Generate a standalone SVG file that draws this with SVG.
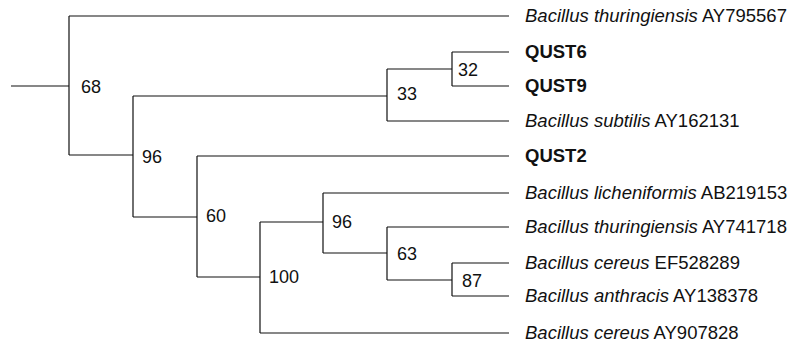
<svg xmlns="http://www.w3.org/2000/svg" width="792" height="349" viewBox="0 0 792 349">
<style>
.br{fill:none;stroke:#111;stroke-width:1.2}
.lf{font-family:"Liberation Sans",Arial,sans-serif;font-size:18.5px;fill:#111}
.it{font-style:italic}
.bd{font-weight:bold}
.bs{font-family:"Liberation Sans",Arial,sans-serif;font-size:18px;fill:#111}
</style>
<rect width="792" height="349" fill="#fff"/>
<g id="connectors">
<path class="br" d="M11,86H69"/>
<path class="br" d="M69,16V155M69,16H509M69,155H133"/>
<path class="br" d="M133,96V217M133,96H387M133,217H197"/>
<path class="br" d="M387,69V121M387,69H452M387,121H509"/>
<path class="br" d="M452,52V86M452,52H509M452,86H509"/>
<path class="br" d="M197,156V277M197,156H509M197,277H260"/>
<path class="br" d="M260,222V333M260,222H323M260,333H509"/>
<path class="br" d="M323,193V253M323,193H509M323,253H387"/>
<path class="br" d="M387,227V280M387,227H509M387,280H452"/>
<path class="br" d="M452,263V296M452,263H509M452,296H509"/>
</g>
<g id="support">
<text class="bs" x="81" y="93">68</text>
<text class="bs" x="142" y="163">96</text>
<text class="bs" x="206" y="222">60</text>
<text class="bs" x="269" y="283">100</text>
<text class="bs" x="332" y="228">96</text>
<text class="bs" x="397" y="100">33</text>
<text class="bs" x="458" y="76">32</text>
<text class="bs" x="397" y="260">63</text>
<text class="bs" x="462" y="287">87</text>
</g>
<g id="leaf-bt1"><text class="lf" x="525" y="22"><tspan class="it">Bacillus thuringiensis</tspan> AY795567</text></g>
<g id="leaf-qust6"><text class="lf bd" x="525" y="58">QUST6</text></g>
<g id="leaf-qust9"><text class="lf bd" x="525" y="92">QUST9</text></g>
<g id="leaf-bs"><text class="lf" x="525" y="127"><tspan class="it">Bacillus subtilis</tspan> AY162131</text></g>
<g id="leaf-qust2"><text class="lf bd" x="525" y="162">QUST2</text></g>
<g id="leaf-bl"><text class="lf" x="525" y="199"><tspan class="it">Bacillus licheniformis</tspan> AB219153</text></g>
<g id="leaf-bt2"><text class="lf" x="525" y="233"><tspan class="it">Bacillus thuringiensis</tspan> AY741718</text></g>
<g id="leaf-bc1"><text class="lf" x="525" y="269"><tspan class="it">Bacillus cereus</tspan> EF528289</text></g>
<g id="leaf-ba"><text class="lf" x="525" y="302"><tspan class="it">Bacillus anthracis</tspan> AY138378</text></g>
<g id="leaf-bc2"><text class="lf" x="525" y="339"><tspan class="it">Bacillus cereus</tspan> AY907828</text></g>
</svg>
